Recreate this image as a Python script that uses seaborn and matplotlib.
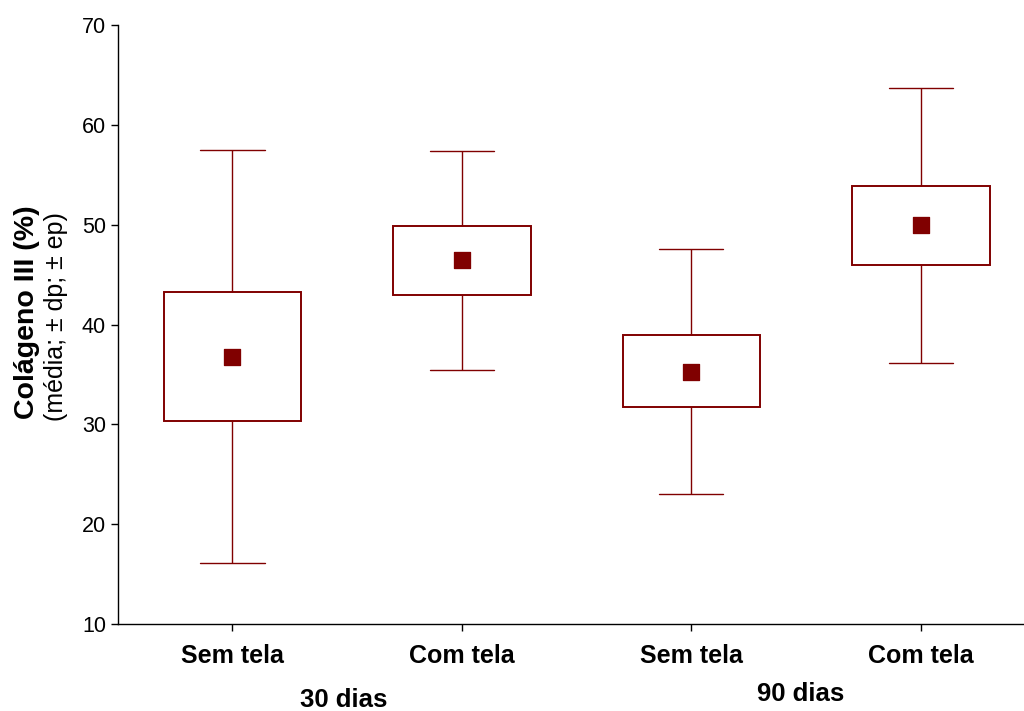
import pandas as pd
import matplotlib
matplotlib.use("Agg")
import matplotlib.pyplot as plt
import seaborn as sns

# Values (mean, box = +/- se, whiskers = +/- sd)
groups = ["30 Sem", "30 Com", "90 Sem", "90 Com"]
tick_labels = ["Sem tela", "Com tela", "Sem tela", "Com tela"]
means = [36.8, 46.5, 35.3, 50.0]
box_low = [30.3, 43.0, 31.7, 46.0]
box_high = [43.3, 49.9, 39.0, 53.9]
whisk_low = [16.1, 35.5, 23.0, 36.2]
whisk_high = [57.5, 57.4, 47.6, 63.7]
period_labels = ["30 dias", "90 dias"]

# five values per group so quartiles land on the box edges and the whiskers on min/max
rows = []
for i, g in enumerate(groups):
    for v in [whisk_low[i], box_low[i], means[i], box_high[i], whisk_high[i]]:
        rows.append({"grupo": g, "valor": v})
df = pd.DataFrame(rows)
df_mean = pd.DataFrame({"grupo": groups, "media": means})

sns.set_style("white")
plt.rcParams["font.family"] = ["Liberation Sans", "DejaVu Sans"]
plt.rcParams["text.color"] = "black"
plt.rcParams["xtick.color"] = "black"
plt.rcParams["ytick.color"] = "black"

red = "#800000"
fig = plt.figure(figsize=(10.24, 7.11), dpi=100)
ax = fig.add_axes([0.115, 0.122, 0.885, 0.843])

sns.boxplot(data=df, x="grupo", y="valor", order=groups, whis=(0, 100), width=0.6,
            fliersize=0, ax=ax,
            boxprops=dict(facecolor="white", edgecolor=red, linewidth=1.4),
            whiskerprops=dict(color=red, linewidth=1.0),
            capprops=dict(color=red, linewidth=1.0),
            medianprops=dict(linewidth=0),
            capwidths=0.28)
sns.scatterplot(data=df_mean, x="grupo", y="media", marker="s", s=140,
                color=red, edgecolor=red, ax=ax, zorder=5)

ax.set_ylim(10, 70)
ax.set_xlim(-0.5, 3.45)
ax.set_yticks([10, 20, 30, 40, 50, 60, 70])
ax.set_xticks(range(4))
ax.set_xticklabels(tick_labels, fontsize=18, fontweight="bold")
ax.tick_params(axis="y", labelsize=15.5, length=5, width=1, direction="out", left=True,
               labelcolor="black")
ax.tick_params(axis="x", length=5, width=1, direction="out", bottom=True, pad=9,
               labelcolor="black")
ax.set_xlabel("")
ax.set_ylabel("")
for s in ["top", "right"]:
    ax.spines[s].set_visible(False)
for s in ["left", "bottom"]:
    ax.spines[s].set_color("black")
    ax.spines[s].set_linewidth(1)

fig.text(0.026, 0.561, "Colágeno III (%)", rotation=90, fontsize=20.5, fontweight="bold",
         ha="center", va="center")
fig.text(0.055, 0.555, "(média; ± dp; ± ep)", rotation=90, fontsize=18,
         ha="center", va="center")
fig.text(0.336, 0.016, period_labels[0], fontsize=18.5, fontweight="bold", ha="center", va="center")
fig.text(0.782, 0.024, period_labels[1], fontsize=18.5, fontweight="bold", ha="center", va="center")

fig.savefig("out.png", dpi=100)
